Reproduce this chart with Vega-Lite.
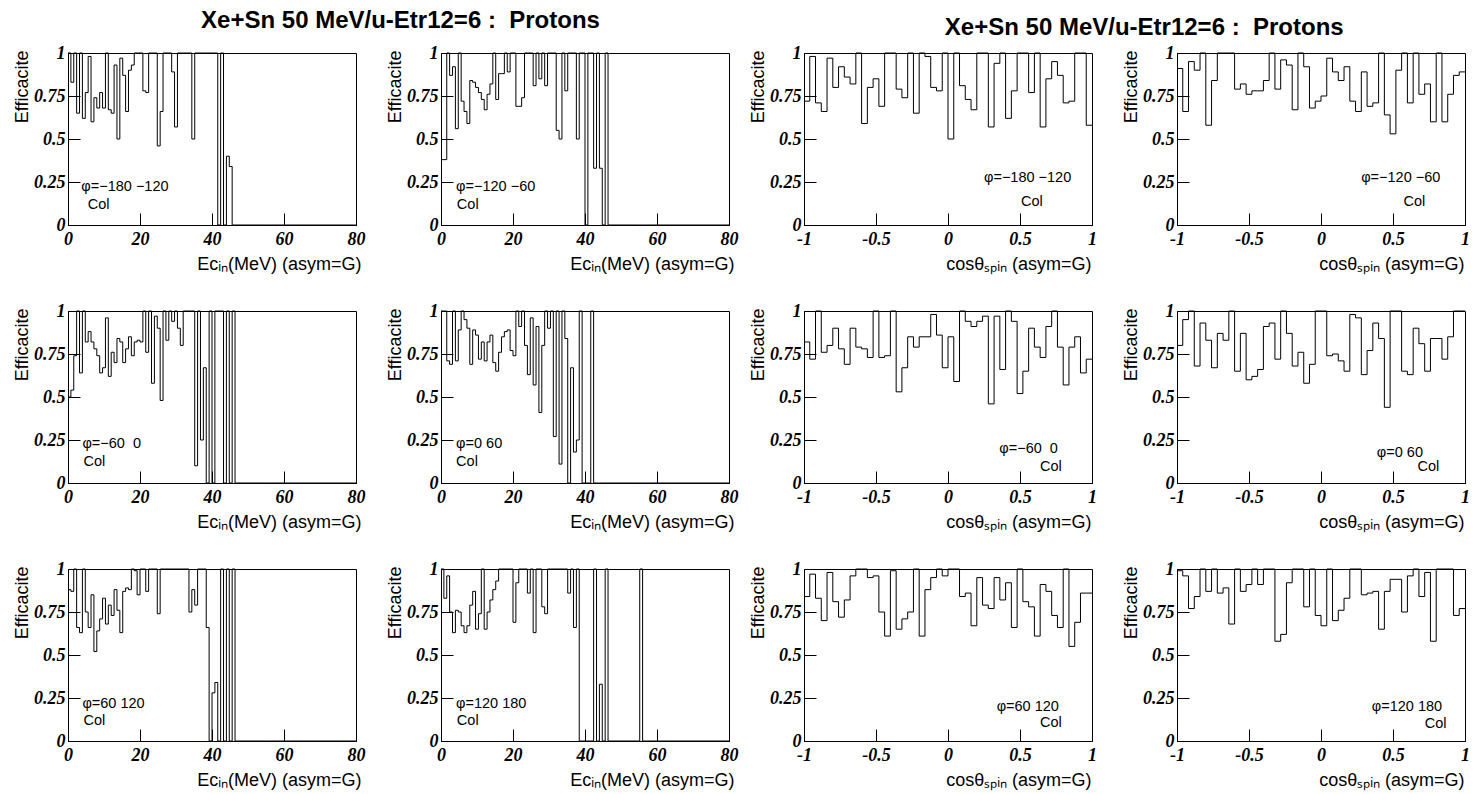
{
"$schema": "https://vega.github.io/schema/vega-lite/v6.json",
"background": "white",
"padding": {"left": 12, "top": 8, "right": 5, "bottom": 5},
"datasets": {
"E": [
{"x":0,"e1":1,"e2":0.38,"e5":0.5,"e6":1,"e9":0.88,"e10":1},
{"x":0.8,"e1":0.83,"e2":0.38,"e5":0.54,"e6":1,"e9":0.87,"e10":0.83},
{"x":1.6,"e1":1,"e2":1,"e5":0.74,"e6":0.71,"e9":1,"e10":0.96},
{"x":2.4,"e1":0.65,"e2":0.87,"e5":1,"e6":0.69,"e9":0.66,"e10":0.75},
{"x":3.2,"e1":1,"e2":0.92,"e5":0.64,"e6":1,"e9":0.63,"e10":0.63},
{"x":4,"e1":0.62,"e2":0.56,"e5":1,"e6":0.71,"e9":1,"e10":0.76},
{"x":4.8,"e1":0.77,"e2":1,"e5":0.82,"e6":0.89,"e9":0.75,"e10":0.75},
{"x":5.6,"e1":0.98,"e2":0.72,"e5":0.88,"e6":1,"e9":0.66,"e10":0.67},
{"x":6.4,"e1":0.6,"e2":0.66,"e5":0.82,"e6":0.95,"e9":0.85,"e10":0.63},
{"x":7.2,"e1":0.74,"e2":0.59,"e5":0.78,"e6":0.9,"e9":0.52,"e10":0.67},
{"x":8,"e1":0.68,"e2":0.84,"e5":0.74,"e6":0.69,"e9":0.64,"e10":0.79},
{"x":8.8,"e1":0.77,"e2":0.83,"e5":0.64,"e6":0.89,"e9":0.71,"e10":0.87},
{"x":9.6,"e1":0.68,"e2":0.8,"e5":0.67,"e6":0.86,"e9":0.83,"e10":0.65},
{"x":10.4,"e1":1,"e2":0.77,"e5":0.96,"e6":0.72,"e9":0.68,"e10":0.74},
{"x":11.2,"e1":0.67,"e2":0.73,"e5":0.62,"e6":0.82,"e9":0.79,"e10":1},
{"x":12,"e1":0.65,"e2":0.67,"e5":0.76,"e6":0.71,"e9":0.73,"e10":0.65},
{"x":12.8,"e1":0.93,"e2":0.76,"e5":0.7,"e6":0.82,"e9":0.88,"e10":0.75},
{"x":13.6,"e1":0.5,"e2":0.82,"e5":0.84,"e6":0.86,"e9":0.76,"e10":0.82},
{"x":14.4,"e1":0.97,"e2":1,"e5":0.82,"e6":0.7,"e9":0.63,"e10":0.88},
{"x":15.2,"e1":0.87,"e2":0.73,"e5":0.7,"e6":0.65,"e9":0.87,"e10":0.93},
{"x":16,"e1":0.66,"e2":0.88,"e5":0.78,"e6":0.76,"e9":0.89,"e10":1},
{"x":16.8,"e1":0.9,"e2":0.88,"e5":0.85,"e6":0.85,"e9":0.88,"e10":1},
{"x":17.6,"e1":0.93,"e2":1,"e5":0.74,"e6":0.88,"e9":1,"e10":1},
{"x":18.4,"e1":1,"e2":0.89,"e5":0.82,"e6":0.89,"e9":0.99,"e10":1},
{"x":19.2,"e1":1,"e2":1,"e5":0.83,"e6":0.77,"e9":0.85,"e10":1},
{"x":20,"e1":1,"e2":1,"e5":0.82,"e6":0.74,"e9":1,"e10":0.69},
{"x":20.8,"e1":0.78,"e2":0.69,"e5":1,"e6":1,"e9":1,"e10":0.92},
{"x":21.6,"e1":0.77,"e2":0.69,"e5":0.76,"e6":0.91,"e9":0.87,"e10":1},
{"x":22.4,"e1":1,"e2":0.74,"e5":1,"e6":1,"e9":1,"e10":1},
{"x":23.2,"e1":1,"e2":1,"e5":0.58,"e6":0.8,"e9":1,"e10":1},
{"x":24,"e1":1,"e2":1,"e5":0.97,"e6":0.63,"e9":1,"e10":0.86},
{"x":24.8,"e1":0.46,"e2":1,"e5":0.9,"e6":0.96,"e9":0.74,"e10":1},
{"x":25.6,"e1":0.66,"e2":0.81,"e5":0.48,"e6":0.57,"e9":1,"e10":0.63},
{"x":26.4,"e1":1,"e2":1,"e5":1,"e6":0.91,"e9":1,"e10":1},
{"x":27.2,"e1":1,"e2":0.85,"e5":0.83,"e6":0.41,"e9":1,"e10":1},
{"x":28,"e1":1,"e2":1,"e5":1,"e6":0.8,"e9":1,"e10":0.78},
{"x":28.8,"e1":0.89,"e2":0.81,"e5":0.94,"e6":1,"e9":1,"e10":0.74},
{"x":29.6,"e1":0.57,"e2":1,"e5":1,"e6":0.9,"e9":1,"e10":1},
{"x":30.4,"e1":1,"e2":1,"e5":0.9,"e6":1,"e9":1,"e10":1},
{"x":31.2,"e1":1,"e2":1,"e5":0.8,"e6":0.27,"e9":1,"e10":1},
{"x":32,"e1":1,"e2":0.55,"e5":1,"e6":1,"e9":1,"e10":1},
{"x":32.8,"e1":1,"e2":0.5,"e5":1,"e6":0.11,"e9":1,"e10":1},
{"x":33.6,"e1":1,"e2":1,"e5":1,"e6":1,"e9":0.75,"e10":1},
{"x":34.4,"e1":0.5,"e2":0.78,"e5":1,"e6":0.84,"e9":0.88,"e10":1},
{"x":35.2,"e1":1,"e2":1,"e5":0.1,"e6":0,"e9":0.79,"e10":0.86},
{"x":36,"e1":1,"e2":1,"e5":1,"e6":0.67,"e9":1,"e10":1},
{"x":36.8,"e1":1,"e2":1,"e5":0.25,"e6":0.18,"e9":1,"e10":0.66},
{"x":37.6,"e1":1,"e2":0.5,"e5":0.67,"e6":0.25,"e9":1,"e10":1},
{"x":38.4,"e1":1,"e2":1,"e5":0,"e6":1,"e9":0.66,"e10":0},
{"x":39.2,"e1":1,"e2":1,"e5":1,"e6":0,"e9":0,"e10":0},
{"x":40,"e1":1,"e2":0,"e5":0,"e6":0,"e9":0.28,"e10":0},
{"x":40.8,"e1":1,"e2":1,"e5":1,"e6":0,"e9":0.34,"e10":0},
{"x":41.6,"e1":0,"e2":1,"e5":1,"e6":1,"e9":0,"e10":0},
{"x":42.4,"e1":1,"e2":0.33,"e5":1,"e6":0,"e9":1,"e10":1},
{"x":43.2,"e1":0,"e2":1,"e5":0,"e6":0,"e9":0,"e10":0},
{"x":44,"e1":0.4,"e2":0.33,"e5":1,"e6":0,"e9":1,"e10":0.33},
{"x":44.8,"e1":0.34,"e2":0,"e5":0,"e6":0,"e9":0,"e10":0},
{"x":45.6,"e1":0,"e2":1,"e5":1,"e6":0,"e9":1,"e10":1},
{"x":46.4,"e1":0,"e2":0,"e5":0,"e6":0,"e9":0,"e10":0},
{"x":55.2,"e1":0,"e2":0,"e5":0,"e6":0,"e9":0,"e10":1},
{"x":56,"e1":0,"e2":0,"e5":0,"e6":0,"e9":0,"e10":0},
{"x":80,"e1":0,"e2":0,"e5":0,"e6":0,"e9":0,"e10":0}
],
"C": [
{"x":-1,"c3":0.72,"c4":0.91,"c7":0.82,"c8":0.8,"c11":0.84,"c12":0.99},
{"x":-0.96,"c3":0.98,"c4":0.66,"c7":0.72,"c8":0.95,"c11":0.97,"c12":0.96},
{"x":-0.92,"c3":0.71,"c4":0.95,"c7":1,"c8":1,"c11":0.83,"c12":0.77},
{"x":-0.88,"c3":0.66,"c4":0.9,"c7":0.76,"c8":0.68,"c11":0.7,"c12":0.84},
{"x":-0.84,"c3":0.97,"c4":1,"c7":0.8,"c8":0.93,"c11":0.98,"c12":1},
{"x":-0.8,"c3":0.8,"c4":0.58,"c7":0.9,"c8":0.83,"c11":0.81,"c12":0.87},
{"x":-0.76,"c3":0.92,"c4":0.84,"c7":0.78,"c8":0.67,"c11":0.72,"c12":1},
{"x":-0.72,"c3":0.86,"c4":1,"c7":0.69,"c8":0.87,"c11":0.82,"c12":0.86},
{"x":-0.68,"c3":0.82,"c4":1,"c7":0.9,"c8":0.83,"c11":0.96,"c12":0.89},
{"x":-0.64,"c3":1,"c4":1,"c7":0.79,"c8":1,"c11":1,"c12":0.68},
{"x":-0.6,"c3":0.59,"c4":0.79,"c7":0.78,"c8":0.65,"c11":1,"c12":1},
{"x":-0.56,"c3":0.8,"c4":0.82,"c7":0.73,"c8":0.87,"c11":0.95,"c12":0.87},
{"x":-0.52,"c3":0.85,"c4":0.76,"c7":1,"c8":0.6,"c11":0.96,"c12":0.91},
{"x":-0.48,"c3":0.69,"c4":0.78,"c7":0.73,"c8":0.62,"c11":0.75,"c12":1},
{"x":-0.44,"c3":1,"c4":0.78,"c7":0.74,"c8":0.66,"c11":0.61,"c12":0.91},
{"x":-0.4,"c3":1,"c4":0.84,"c7":1,"c8":0.91,"c11":0.99,"c12":1},
{"x":-0.36,"c3":0.79,"c4":1,"c7":0.53,"c8":0.93,"c11":0.65,"c12":1},
{"x":-0.32,"c3":0.74,"c4":0.79,"c7":0.67,"c8":0.72,"c11":0.71,"c12":0.58},
{"x":-0.28,"c3":1,"c4":0.96,"c7":0.85,"c8":1,"c11":0.75,"c12":0.62},
{"x":-0.24,"c3":0.65,"c4":0.93,"c7":0.79,"c8":0.87,"c11":1,"c12":0.92},
{"x":-0.2,"c3":1,"c4":0.67,"c7":0.85,"c8":0.68,"c11":0.61,"c12":1},
{"x":-0.16,"c3":0.98,"c4":1,"c7":0.85,"c8":0.76,"c11":0.88,"c12":1},
{"x":-0.12,"c3":0.8,"c4":0.92,"c7":0.98,"c8":0.58,"c11":0.95,"c12":0.78},
{"x":-0.08,"c3":0.78,"c4":0.68,"c7":0.86,"c8":0.69,"c11":1,"c12":1},
{"x":-0.04,"c3":1,"c4":0.72,"c7":0.67,"c8":1,"c11":0.96,"c12":0.73},
{"x":0,"c3":0.5,"c4":0.75,"c7":0.85,"c8":1,"c11":1,"c12":0.67},
{"x":0.04,"c3":1,"c4":0.97,"c7":0.59,"c8":0.74,"c11":1,"c12":1},
{"x":0.08,"c3":0.81,"c4":0.89,"c7":1,"c8":0.75,"c11":0.84,"c12":0.7},
{"x":0.12,"c3":0.73,"c4":0.84,"c7":0.94,"c8":0.71,"c11":0.86,"c12":0.76},
{"x":0.16,"c3":0.67,"c4":0.92,"c7":0.91,"c8":0.65,"c11":0.67,"c12":0.83},
{"x":0.2,"c3":1,"c4":0.72,"c7":0.94,"c8":0.98,"c11":0.95,"c12":1},
{"x":0.24,"c3":1,"c4":0.66,"c7":0.97,"c8":0.96,"c11":0.79,"c12":1},
{"x":0.28,"c3":0.57,"c4":0.89,"c7":0.46,"c8":0.63,"c11":0.77,"c12":0.85},
{"x":0.32,"c3":0.94,"c4":0.69,"c7":0.97,"c8":0.77,"c11":0.95,"c12":0.86},
{"x":0.36,"c3":1,"c4":0.71,"c7":0.66,"c8":0.93,"c11":0.82,"c12":0.87},
{"x":0.4,"c3":0.62,"c4":1,"c7":1,"c8":0.84,"c11":0.92,"c12":0.65},
{"x":0.44,"c3":0.78,"c4":0.64,"c7":0.94,"c8":0.44,"c11":0.66,"c12":0.87},
{"x":0.48,"c3":1,"c4":0.53,"c7":0.52,"c8":1,"c11":1,"c12":0.94},
{"x":0.52,"c3":1,"c4":0.9,"c7":0.65,"c8":1,"c11":0.81,"c12":0.94},
{"x":0.56,"c3":0.77,"c4":1,"c7":0.9,"c8":0.65,"c11":0.78,"c12":0.75},
{"x":0.6,"c3":1,"c4":0.71,"c7":0.79,"c8":0.63,"c11":0.61,"c12":0.96},
{"x":0.64,"c3":0.57,"c4":1,"c7":0.73,"c8":0.9,"c11":0.91,"c12":1},
{"x":0.68,"c3":0.85,"c4":0.76,"c7":0.91,"c8":0.81,"c11":0.87,"c12":0.84},
{"x":0.72,"c3":0.95,"c4":0.82,"c7":1,"c8":0.65,"c11":0.73,"c12":0.98},
{"x":0.76,"c3":0.87,"c4":0.6,"c7":0.79,"c8":0.84,"c11":0.66,"c12":0.58},
{"x":0.8,"c3":0.71,"c4":1,"c7":0.57,"c8":0.84,"c11":1,"c12":1},
{"x":0.84,"c3":0.72,"c4":0.6,"c7":0.79,"c8":0.72,"c11":0.55,"c12":1},
{"x":0.88,"c3":1,"c4":0.76,"c7":0.85,"c8":0.85,"c11":0.69,"c12":1},
{"x":0.92,"c3":1,"c4":0.87,"c7":0.64,"c8":1,"c11":0.86,"c12":0.73},
{"x":0.96,"c3":0.58,"c4":0.89,"c7":0.72,"c8":1,"c11":0.86,"c12":0.77},
{"x":1,"c3":0.58,"c4":0.89,"c7":0.72,"c8":1,"c11":0.86,"c12":0.77}
]
},
"config": {
"view": {"stroke": "black", "strokeWidth": 1},
"font": "Liberation Sans",
"axis": {"grid": false, "domainColor": "black", "domainWidth": 1, "tickColor": "black", "tickWidth": 1, "labelColor": "black", "labelFont": "Liberation Serif", "labelFontStyle": "italic", "labelFontWeight": "bold", "labelFontSize": 18, "labelFlush": false, "labelOverlap": false, "labelBound": false, "titleColor": "black", "titleFont": "Liberation Sans", "titleFontWeight": "normal", "titleFontSize": 18},
"axisX": {"labelPadding": 17, "titleY": 44, "titleAlign": "right", "titleBaseline": "alphabetic", "titleAnchor": "end"},
"axisY": {"labelPadding": 15, "titleX": -41, "titleY": -3, "titleAlign": "right", "titleBaseline": "alphabetic", "titleAngle": 270},
"title": {"font": "Liberation Sans", "fontSize": 24, "fontWeight": "bold", "color": "black", "anchor": "middle", "offset": 11}
},
"spacing": 9,
"hconcat": [
{
"title": {"text": "Xe+Sn 50 MeV/u-Etr12=6 : \u00a0Protons", "dx": 25},
"spacing": 27,
"vconcat": [
{"spacing": 19, "hconcat": [
{"width": 288, "height": 172, "layer": [
{"data": {"name": "E"}, "mark": {"type": "line", "interpolate": "step-after", "color": "black", "strokeWidth": 1},
"encoding": {"x": {"field": "x", "type": "quantitative", "scale": {"domain": [0, 80], "nice": false, "zero": false}, "axis": {"title": "Eᴄᵢₙ(MeV) (asym=G)", "titleX": 293, "values": [0,5,10,15,20,25,30,35,40,45,50,55,60,65,70,75,80], "labelExpr": "datum.value % 20 == 0 ? format(datum.value, '~g') : ''", "tickSize": {"condition": {"test": "datum.value % 20 == 0", "value": -12}, "value": -6}}},
"y": {"field": "e1", "type": "quantitative", "scale": {"domain": [0, 1], "nice": false}, "axis": {"title": "Efficacite", "values": [0,0.125,0.25,0.375,0.5,0.625,0.75,0.875,1], "labelExpr": "abs(datum.value*4 - round(datum.value*4)) < 0.001 ? format(datum.value, '~g') : ''", "tickSize": {"condition": {"test": "abs(datum.value*4 - round(datum.value*4)) < 0.001", "value": -12}, "value": -6}}}}},
{"data": {"values": [{}]}, "mark": {"type": "text", "align": "left", "baseline": "middle", "font": "Liberation Sans", "fontSize": 14.5, "color": "black"},
"encoding": {"x": {"datum": 3.7, "type": "quantitative"}, "y": {"datum": 0.223, "type": "quantitative"}, "text": {"value": "φ=−180 −120"}}},
{"data": {"values": [{}]}, "mark": {"type": "text", "align": "left", "baseline": "middle", "font": "Liberation Sans", "fontSize": 14.5, "color": "black"},
"encoding": {"x": {"datum": 5.5, "type": "quantitative"}, "y": {"datum": 0.116, "type": "quantitative"}, "text": {"value": "Col"}}}
]},
{"width": 288, "height": 172, "layer": [
{"data": {"name": "E"}, "mark": {"type": "line", "interpolate": "step-after", "color": "black", "strokeWidth": 1},
"encoding": {"x": {"field": "x", "type": "quantitative", "scale": {"domain": [0, 80], "nice": false, "zero": false}, "axis": {"title": "Eᴄᵢₙ(MeV) (asym=G)", "titleX": 293, "values": [0,5,10,15,20,25,30,35,40,45,50,55,60,65,70,75,80], "labelExpr": "datum.value % 20 == 0 ? format(datum.value, '~g') : ''", "tickSize": {"condition": {"test": "datum.value % 20 == 0", "value": -12}, "value": -6}}},
"y": {"field": "e2", "type": "quantitative", "scale": {"domain": [0, 1], "nice": false}, "axis": {"title": "Efficacite", "values": [0,0.125,0.25,0.375,0.5,0.625,0.75,0.875,1], "labelExpr": "abs(datum.value*4 - round(datum.value*4)) < 0.001 ? format(datum.value, '~g') : ''", "tickSize": {"condition": {"test": "abs(datum.value*4 - round(datum.value*4)) < 0.001", "value": -12}, "value": -6}}}}},
{"data": {"values": [{}]}, "mark": {"type": "text", "align": "left", "baseline": "middle", "font": "Liberation Sans", "fontSize": 14.5, "color": "black"},
"encoding": {"x": {"datum": 4.2, "type": "quantitative"}, "y": {"datum": 0.223, "type": "quantitative"}, "text": {"value": "φ=−120 −60"}}},
{"data": {"values": [{}]}, "mark": {"type": "text", "align": "left", "baseline": "middle", "font": "Liberation Sans", "fontSize": 14.5, "color": "black"},
"encoding": {"x": {"datum": 4.4, "type": "quantitative"}, "y": {"datum": 0.116, "type": "quantitative"}, "text": {"value": "Col"}}}
]}
]},
{"spacing": 19, "hconcat": [
{"width": 288, "height": 172, "layer": [
{"data": {"name": "E"}, "mark": {"type": "line", "interpolate": "step-after", "color": "black", "strokeWidth": 1},
"encoding": {"x": {"field": "x", "type": "quantitative", "scale": {"domain": [0, 80], "nice": false, "zero": false}, "axis": {"title": "Eᴄᵢₙ(MeV) (asym=G)", "titleX": 293, "values": [0,5,10,15,20,25,30,35,40,45,50,55,60,65,70,75,80], "labelExpr": "datum.value % 20 == 0 ? format(datum.value, '~g') : ''", "tickSize": {"condition": {"test": "datum.value % 20 == 0", "value": -12}, "value": -6}}},
"y": {"field": "e5", "type": "quantitative", "scale": {"domain": [0, 1], "nice": false}, "axis": {"title": "Efficacite", "values": [0,0.125,0.25,0.375,0.5,0.625,0.75,0.875,1], "labelExpr": "abs(datum.value*4 - round(datum.value*4)) < 0.001 ? format(datum.value, '~g') : ''", "tickSize": {"condition": {"test": "abs(datum.value*4 - round(datum.value*4)) < 0.001", "value": -12}, "value": -6}}}}},
{"data": {"values": [{}]}, "mark": {"type": "text", "align": "left", "baseline": "middle", "font": "Liberation Sans", "fontSize": 14.5, "color": "black"},
"encoding": {"x": {"datum": 4.0, "type": "quantitative"}, "y": {"datum": 0.224, "type": "quantitative"}, "text": {"value": "φ=−60\u00a0 0"}}},
{"data": {"values": [{}]}, "mark": {"type": "text", "align": "left", "baseline": "middle", "font": "Liberation Sans", "fontSize": 14.5, "color": "black"},
"encoding": {"x": {"datum": 4.3, "type": "quantitative"}, "y": {"datum": 0.12, "type": "quantitative"}, "text": {"value": "Col"}}}
]},
{"width": 288, "height": 172, "layer": [
{"data": {"name": "E"}, "mark": {"type": "line", "interpolate": "step-after", "color": "black", "strokeWidth": 1},
"encoding": {"x": {"field": "x", "type": "quantitative", "scale": {"domain": [0, 80], "nice": false, "zero": false}, "axis": {"title": "Eᴄᵢₙ(MeV) (asym=G)", "titleX": 293, "values": [0,5,10,15,20,25,30,35,40,45,50,55,60,65,70,75,80], "labelExpr": "datum.value % 20 == 0 ? format(datum.value, '~g') : ''", "tickSize": {"condition": {"test": "datum.value % 20 == 0", "value": -12}, "value": -6}}},
"y": {"field": "e6", "type": "quantitative", "scale": {"domain": [0, 1], "nice": false}, "axis": {"title": "Efficacite", "values": [0,0.125,0.25,0.375,0.5,0.625,0.75,0.875,1], "labelExpr": "abs(datum.value*4 - round(datum.value*4)) < 0.001 ? format(datum.value, '~g') : ''", "tickSize": {"condition": {"test": "abs(datum.value*4 - round(datum.value*4)) < 0.001", "value": -12}, "value": -6}}}}},
{"data": {"values": [{}]}, "mark": {"type": "text", "align": "left", "baseline": "middle", "font": "Liberation Sans", "fontSize": 14.5, "color": "black"},
"encoding": {"x": {"datum": 4.2, "type": "quantitative"}, "y": {"datum": 0.224, "type": "quantitative"}, "text": {"value": "φ=0 60"}}},
{"data": {"values": [{}]}, "mark": {"type": "text", "align": "left", "baseline": "middle", "font": "Liberation Sans", "fontSize": 14.5, "color": "black"},
"encoding": {"x": {"datum": 4.2, "type": "quantitative"}, "y": {"datum": 0.12, "type": "quantitative"}, "text": {"value": "Col"}}}
]}
]},
{"spacing": 19, "hconcat": [
{"width": 288, "height": 172, "layer": [
{"data": {"name": "E"}, "mark": {"type": "line", "interpolate": "step-after", "color": "black", "strokeWidth": 1},
"encoding": {"x": {"field": "x", "type": "quantitative", "scale": {"domain": [0, 80], "nice": false, "zero": false}, "axis": {"title": "Eᴄᵢₙ(MeV) (asym=G)", "titleX": 293, "values": [0,5,10,15,20,25,30,35,40,45,50,55,60,65,70,75,80], "labelExpr": "datum.value % 20 == 0 ? format(datum.value, '~g') : ''", "tickSize": {"condition": {"test": "datum.value % 20 == 0", "value": -12}, "value": -6}}},
"y": {"field": "e9", "type": "quantitative", "scale": {"domain": [0, 1], "nice": false}, "axis": {"title": "Efficacite", "values": [0,0.125,0.25,0.375,0.5,0.625,0.75,0.875,1], "labelExpr": "abs(datum.value*4 - round(datum.value*4)) < 0.001 ? format(datum.value, '~g') : ''", "tickSize": {"condition": {"test": "abs(datum.value*4 - round(datum.value*4)) < 0.001", "value": -12}, "value": -6}}}}},
{"data": {"values": [{}]}, "mark": {"type": "text", "align": "left", "baseline": "middle", "font": "Liberation Sans", "fontSize": 14.5, "color": "black"},
"encoding": {"x": {"datum": 4.0, "type": "quantitative"}, "y": {"datum": 0.217, "type": "quantitative"}, "text": {"value": "φ=60 120"}}},
{"data": {"values": [{}]}, "mark": {"type": "text", "align": "left", "baseline": "middle", "font": "Liberation Sans", "fontSize": 14.5, "color": "black"},
"encoding": {"x": {"datum": 4.3, "type": "quantitative"}, "y": {"datum": 0.114, "type": "quantitative"}, "text": {"value": "Col"}}}
]},
{"width": 288, "height": 172, "layer": [
{"data": {"name": "E"}, "mark": {"type": "line", "interpolate": "step-after", "color": "black", "strokeWidth": 1},
"encoding": {"x": {"field": "x", "type": "quantitative", "scale": {"domain": [0, 80], "nice": false, "zero": false}, "axis": {"title": "Eᴄᵢₙ(MeV) (asym=G)", "titleX": 293, "values": [0,5,10,15,20,25,30,35,40,45,50,55,60,65,70,75,80], "labelExpr": "datum.value % 20 == 0 ? format(datum.value, '~g') : ''", "tickSize": {"condition": {"test": "datum.value % 20 == 0", "value": -12}, "value": -6}}},
"y": {"field": "e10", "type": "quantitative", "scale": {"domain": [0, 1], "nice": false}, "axis": {"title": "Efficacite", "values": [0,0.125,0.25,0.375,0.5,0.625,0.75,0.875,1], "labelExpr": "abs(datum.value*4 - round(datum.value*4)) < 0.001 ? format(datum.value, '~g') : ''", "tickSize": {"condition": {"test": "abs(datum.value*4 - round(datum.value*4)) < 0.001", "value": -12}, "value": -6}}}}},
{"data": {"values": [{}]}, "mark": {"type": "text", "align": "left", "baseline": "middle", "font": "Liberation Sans", "fontSize": 14.5, "color": "black"},
"encoding": {"x": {"datum": 4.2, "type": "quantitative"}, "y": {"datum": 0.217, "type": "quantitative"}, "text": {"value": "φ=120 180"}}},
{"data": {"values": [{}]}, "mark": {"type": "text", "align": "left", "baseline": "middle", "font": "Liberation Sans", "fontSize": 14.5, "color": "black"},
"encoding": {"x": {"datum": 4.4, "type": "quantitative"}, "y": {"datum": 0.114, "type": "quantitative"}, "text": {"value": "Col"}}}
]}
]}
]
},
{
"title": {"text": "Xe+Sn 50 MeV/u-Etr12=6 : \u00a0Protons", "dx": 35, "dy": 7},
"spacing": 27,
"vconcat": [
{"spacing": 24, "hconcat": [
{"width": 288, "height": 172, "layer": [
{"data": {"name": "C"}, "mark": {"type": "line", "interpolate": "step-after", "color": "black", "strokeWidth": 1},
"encoding": {"x": {"field": "x", "type": "quantitative", "scale": {"domain": [-1, 1], "nice": false, "zero": false}, "axis": {"title": "cosθₛₚᵢₙ (asym=G)", "titleX": 287, "values": [-1,-0.75,-0.5,-0.25,0,0.25,0.5,0.75,1], "labelExpr": "abs(datum.value*2 - round(datum.value*2)) < 0.001 ? replace(format(datum.value, '~g'), '−', '-') : ''", "tickSize": {"condition": {"test": "abs(datum.value*2 - round(datum.value*2)) < 0.001", "value": -12}, "value": -6}}},
"y": {"field": "c3", "type": "quantitative", "scale": {"domain": [0, 1], "nice": false}, "axis": {"title": "Efficacite", "values": [0,0.125,0.25,0.375,0.5,0.625,0.75,0.875,1], "labelExpr": "abs(datum.value*4 - round(datum.value*4)) < 0.001 ? format(datum.value, '~g') : ''", "tickSize": {"condition": {"test": "abs(datum.value*4 - round(datum.value*4)) < 0.001", "value": -12}, "value": -6}}}}},
{"data": {"values": [{}]}, "mark": {"type": "text", "align": "center", "baseline": "middle", "font": "Liberation Sans", "fontSize": 14.5, "color": "black"},
"encoding": {"x": {"datum": 0.553, "type": "quantitative"}, "y": {"datum": 0.272, "type": "quantitative"}, "text": {"value": "φ=−180 −120"}}},
{"data": {"values": [{}]}, "mark": {"type": "text", "align": "center", "baseline": "middle", "font": "Liberation Sans", "fontSize": 14.5, "color": "black"},
"encoding": {"x": {"datum": 0.583, "type": "quantitative"}, "y": {"datum": 0.132, "type": "quantitative"}, "text": {"value": "Col"}}}
]},
{"width": 288, "height": 172, "layer": [
{"data": {"name": "C"}, "mark": {"type": "line", "interpolate": "step-after", "color": "black", "strokeWidth": 1},
"encoding": {"x": {"field": "x", "type": "quantitative", "scale": {"domain": [-1, 1], "nice": false, "zero": false}, "axis": {"title": "cosθₛₚᵢₙ (asym=G)", "titleX": 287, "values": [-1,-0.75,-0.5,-0.25,0,0.25,0.5,0.75,1], "labelExpr": "abs(datum.value*2 - round(datum.value*2)) < 0.001 ? replace(format(datum.value, '~g'), '−', '-') : ''", "tickSize": {"condition": {"test": "abs(datum.value*2 - round(datum.value*2)) < 0.001", "value": -12}, "value": -6}}},
"y": {"field": "c4", "type": "quantitative", "scale": {"domain": [0, 1], "nice": false}, "axis": {"title": "Efficacite", "values": [0,0.125,0.25,0.375,0.5,0.625,0.75,0.875,1], "labelExpr": "abs(datum.value*4 - round(datum.value*4)) < 0.001 ? format(datum.value, '~g') : ''", "tickSize": {"condition": {"test": "abs(datum.value*4 - round(datum.value*4)) < 0.001", "value": -12}, "value": -6}}}}},
{"data": {"values": [{}]}, "mark": {"type": "text", "align": "center", "baseline": "middle", "font": "Liberation Sans", "fontSize": 14.5, "color": "black"},
"encoding": {"x": {"datum": 0.554, "type": "quantitative"}, "y": {"datum": 0.272, "type": "quantitative"}, "text": {"value": "φ=−120 −60"}}},
{"data": {"values": [{}]}, "mark": {"type": "text", "align": "center", "baseline": "middle", "font": "Liberation Sans", "fontSize": 14.5, "color": "black"},
"encoding": {"x": {"datum": 0.648, "type": "quantitative"}, "y": {"datum": 0.132, "type": "quantitative"}, "text": {"value": "Col"}}}
]}
]},
{"spacing": 24, "hconcat": [
{"width": 288, "height": 172, "layer": [
{"data": {"name": "C"}, "mark": {"type": "line", "interpolate": "step-after", "color": "black", "strokeWidth": 1},
"encoding": {"x": {"field": "x", "type": "quantitative", "scale": {"domain": [-1, 1], "nice": false, "zero": false}, "axis": {"title": "cosθₛₚᵢₙ (asym=G)", "titleX": 287, "values": [-1,-0.75,-0.5,-0.25,0,0.25,0.5,0.75,1], "labelExpr": "abs(datum.value*2 - round(datum.value*2)) < 0.001 ? replace(format(datum.value, '~g'), '−', '-') : ''", "tickSize": {"condition": {"test": "abs(datum.value*2 - round(datum.value*2)) < 0.001", "value": -12}, "value": -6}}},
"y": {"field": "c7", "type": "quantitative", "scale": {"domain": [0, 1], "nice": false}, "axis": {"title": "Efficacite", "values": [0,0.125,0.25,0.375,0.5,0.625,0.75,0.875,1], "labelExpr": "abs(datum.value*4 - round(datum.value*4)) < 0.001 ? format(datum.value, '~g') : ''", "tickSize": {"condition": {"test": "abs(datum.value*4 - round(datum.value*4)) < 0.001", "value": -12}, "value": -6}}}}},
{"data": {"values": [{}]}, "mark": {"type": "text", "align": "center", "baseline": "middle", "font": "Liberation Sans", "fontSize": 14.5, "color": "black"},
"encoding": {"x": {"datum": 0.56, "type": "quantitative"}, "y": {"datum": 0.195, "type": "quantitative"}, "text": {"value": "φ=−60\u00a0 0"}}},
{"data": {"values": [{}]}, "mark": {"type": "text", "align": "center", "baseline": "middle", "font": "Liberation Sans", "fontSize": 14.5, "color": "black"},
"encoding": {"x": {"datum": 0.715, "type": "quantitative"}, "y": {"datum": 0.091, "type": "quantitative"}, "text": {"value": "Col"}}}
]},
{"width": 288, "height": 172, "layer": [
{"data": {"name": "C"}, "mark": {"type": "line", "interpolate": "step-after", "color": "black", "strokeWidth": 1},
"encoding": {"x": {"field": "x", "type": "quantitative", "scale": {"domain": [-1, 1], "nice": false, "zero": false}, "axis": {"title": "cosθₛₚᵢₙ (asym=G)", "titleX": 287, "values": [-1,-0.75,-0.5,-0.25,0,0.25,0.5,0.75,1], "labelExpr": "abs(datum.value*2 - round(datum.value*2)) < 0.001 ? replace(format(datum.value, '~g'), '−', '-') : ''", "tickSize": {"condition": {"test": "abs(datum.value*2 - round(datum.value*2)) < 0.001", "value": -12}, "value": -6}}},
"y": {"field": "c8", "type": "quantitative", "scale": {"domain": [0, 1], "nice": false}, "axis": {"title": "Efficacite", "values": [0,0.125,0.25,0.375,0.5,0.625,0.75,0.875,1], "labelExpr": "abs(datum.value*4 - round(datum.value*4)) < 0.001 ? format(datum.value, '~g') : ''", "tickSize": {"condition": {"test": "abs(datum.value*4 - round(datum.value*4)) < 0.001", "value": -12}, "value": -6}}}}},
{"data": {"values": [{}]}, "mark": {"type": "text", "align": "center", "baseline": "middle", "font": "Liberation Sans", "fontSize": 14.5, "color": "black"},
"encoding": {"x": {"datum": 0.548, "type": "quantitative"}, "y": {"datum": 0.175, "type": "quantitative"}, "text": {"value": "φ=0 60"}}},
{"data": {"values": [{}]}, "mark": {"type": "text", "align": "center", "baseline": "middle", "font": "Liberation Sans", "fontSize": 14.5, "color": "black"},
"encoding": {"x": {"datum": 0.746, "type": "quantitative"}, "y": {"datum": 0.091, "type": "quantitative"}, "text": {"value": "Col"}}}
]}
]},
{"spacing": 24, "hconcat": [
{"width": 288, "height": 172, "layer": [
{"data": {"name": "C"}, "mark": {"type": "line", "interpolate": "step-after", "color": "black", "strokeWidth": 1},
"encoding": {"x": {"field": "x", "type": "quantitative", "scale": {"domain": [-1, 1], "nice": false, "zero": false}, "axis": {"title": "cosθₛₚᵢₙ (asym=G)", "titleX": 287, "values": [-1,-0.75,-0.5,-0.25,0,0.25,0.5,0.75,1], "labelExpr": "abs(datum.value*2 - round(datum.value*2)) < 0.001 ? replace(format(datum.value, '~g'), '−', '-') : ''", "tickSize": {"condition": {"test": "abs(datum.value*2 - round(datum.value*2)) < 0.001", "value": -12}, "value": -6}}},
"y": {"field": "c11", "type": "quantitative", "scale": {"domain": [0, 1], "nice": false}, "axis": {"title": "Efficacite", "values": [0,0.125,0.25,0.375,0.5,0.625,0.75,0.875,1], "labelExpr": "abs(datum.value*4 - round(datum.value*4)) < 0.001 ? format(datum.value, '~g') : ''", "tickSize": {"condition": {"test": "abs(datum.value*4 - round(datum.value*4)) < 0.001", "value": -12}, "value": -6}}}}},
{"data": {"values": [{}]}, "mark": {"type": "text", "align": "center", "baseline": "middle", "font": "Liberation Sans", "fontSize": 14.5, "color": "black"},
"encoding": {"x": {"datum": 0.554, "type": "quantitative"}, "y": {"datum": 0.198, "type": "quantitative"}, "text": {"value": "φ=60 120"}}},
{"data": {"values": [{}]}, "mark": {"type": "text", "align": "center", "baseline": "middle", "font": "Liberation Sans", "fontSize": 14.5, "color": "black"},
"encoding": {"x": {"datum": 0.715, "type": "quantitative"}, "y": {"datum": 0.107, "type": "quantitative"}, "text": {"value": "Col"}}}
]},
{"width": 288, "height": 172, "layer": [
{"data": {"name": "C"}, "mark": {"type": "line", "interpolate": "step-after", "color": "black", "strokeWidth": 1},
"encoding": {"x": {"field": "x", "type": "quantitative", "scale": {"domain": [-1, 1], "nice": false, "zero": false}, "axis": {"title": "cosθₛₚᵢₙ (asym=G)", "titleX": 287, "values": [-1,-0.75,-0.5,-0.25,0,0.25,0.5,0.75,1], "labelExpr": "abs(datum.value*2 - round(datum.value*2)) < 0.001 ? replace(format(datum.value, '~g'), '−', '-') : ''", "tickSize": {"condition": {"test": "abs(datum.value*2 - round(datum.value*2)) < 0.001", "value": -12}, "value": -6}}},
"y": {"field": "c12", "type": "quantitative", "scale": {"domain": [0, 1], "nice": false}, "axis": {"title": "Efficacite", "values": [0,0.125,0.25,0.375,0.5,0.625,0.75,0.875,1], "labelExpr": "abs(datum.value*4 - round(datum.value*4)) < 0.001 ? format(datum.value, '~g') : ''", "tickSize": {"condition": {"test": "abs(datum.value*4 - round(datum.value*4)) < 0.001", "value": -12}, "value": -6}}}}},
{"data": {"values": [{}]}, "mark": {"type": "text", "align": "center", "baseline": "middle", "font": "Liberation Sans", "fontSize": 14.5, "color": "black"},
"encoding": {"x": {"datum": 0.597, "type": "quantitative"}, "y": {"datum": 0.198, "type": "quantitative"}, "text": {"value": "φ=120 180"}}},
{"data": {"values": [{}]}, "mark": {"type": "text", "align": "center", "baseline": "middle", "font": "Liberation Sans", "fontSize": 14.5, "color": "black"},
"encoding": {"x": {"datum": 0.796, "type": "quantitative"}, "y": {"datum": 0.1, "type": "quantitative"}, "text": {"value": "Col"}}}
]}
]}
]
}
]
}
